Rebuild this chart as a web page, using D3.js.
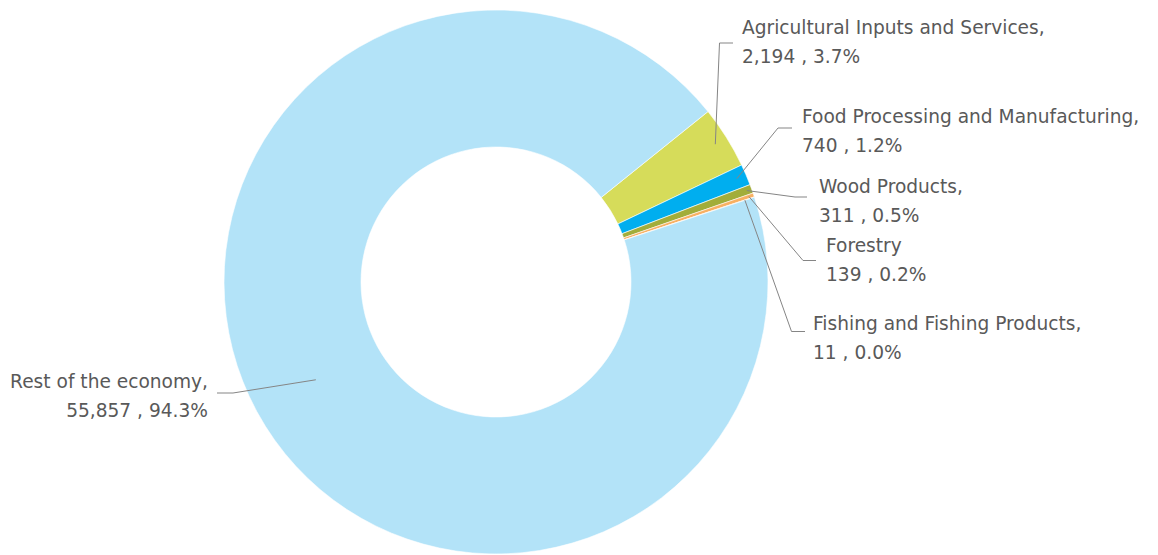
<!DOCTYPE html>
<meta charset="utf-8">
<script src="https://d3js.org/d3.v7.min.js"></script>
<style>
  body { margin: 0; background: #fff; }
</style>
<div id="chart"></div>
<script>

// data
const sectors = ["Agricultural Inputs and Services", "Food Processing and Manufacturing",
  "Wood Products", "Forestry", "Fishing and Fishing Products", "Rest of the economy"];
const jobs = [2194, 740, 311, 139, 11, 55857];
const colors = ["#d6dc5a", "#00aeef", "#a2ad3a", "#f8b062", "#f58a3c", "#b3e3f8"];

// label layout: text position, leader elbow, where the leader starts (radius)
const labelX = [742, 802, 819, 826, 813, 208];
const labelY = [34, 123, 193, 252, 330, 388];
const labelAnchor = ["start", "start", "start", "start", "start", "end"];
const elbow = [[719.5, 43], [778, 128], [795, 197], [803, 260.5], [791.5, 331.5], [233, 393]];
const elbowEnd = [733, 792, 807, 816, 805, 217];
const leaderR = [259, 262, 267, 267, 262, 205];

const width = 1158, height = 555;
const cx = 496, cy = 282, outerR = 272, innerR = 135;

const svg = d3.select("#chart").append("svg")
  .attr("width", width)
  .attr("height", height);

const total = d3.sum(jobs);
const data = sectors.map((s, i) => ({name: s, value: jobs[i], i: i}));

const startDeg = 51.2;
const pie = d3.pie()
  .value(d => d.value)
  .sort(null)
  .startAngle(startDeg * Math.PI / 180)
  .endAngle((startDeg + 360) * Math.PI / 180);

const arc = d3.arc().innerRadius(innerR).outerRadius(outerR);

const g = svg.append("g").attr("transform", `translate(${cx},${cy})`);
const arcs = pie(data);

g.selectAll("path.slice")
  .data(arcs)
  .enter().append("path")
    .attr("class", "slice")
    .attr("d", arc)
    .attr("fill", d => colors[d.data.i])
    .attr("stroke", "#fff")
    .attr("stroke-width", 0.6);

const fmtNum = d3.format(",");
const fmtPct = d3.format(".1%");

// leader lines
arcs.forEach(d => {
  const i = d.data.i;
  const mid = (d.startAngle + d.endAngle) / 2;
  const sx = cx + leaderR[i] * Math.sin(mid);
  const sy = cy - leaderR[i] * Math.cos(mid);
  svg.append("polyline")
    .attr("points", [[sx, sy], elbow[i], [elbowEnd[i], elbow[i][1]]].map(p => p.join(",")).join(" "))
    .attr("fill", "none")
    .attr("stroke", "#858585")
    .attr("stroke-width", 1);
});

// labels
arcs.forEach(d => {
  const i = d.data.i;
  const first = d.data.name === "Forestry" ? d.data.name : d.data.name + ",";
  const t = svg.append("text")
    .attr("x", labelX[i])
    .attr("y", labelY[i])
    .attr("text-anchor", labelAnchor[i])
    .attr("fill", "#595959")
    .style("font-family", "'DejaVu Sans', sans-serif")
    .style("font-size", "18.6px");
  t.append("tspan").attr("x", labelX[i]).text(first);
  t.append("tspan").attr("x", labelX[i]).attr("dy", 29)
    .text(fmtNum(d.data.value) + " , " + fmtPct(d.data.value / total));
});

</script>
